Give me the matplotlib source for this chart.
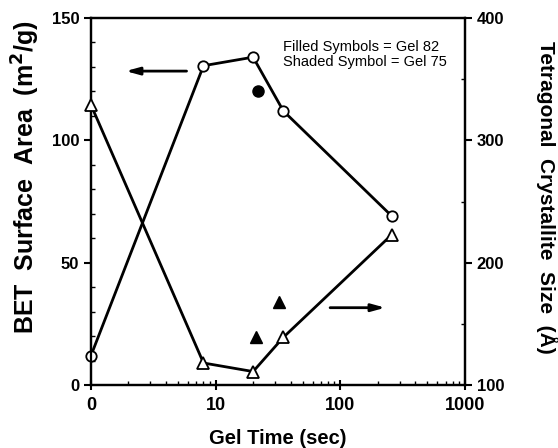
import matplotlib
matplotlib.use("Agg")
import matplotlib.pyplot as plt
from matplotlib.ticker import FixedLocator, LogLocator, NullFormatter, MultipleLocator

plt.rcParams['font.family'] = ['Liberation Sans', 'DejaVu Sans']
plt.rcParams['font.weight'] = 'bold'

# Gel time 0 is plotted at the first decade (1) on a log axis
gel_time_bet = [1, 8, 20, 35, 260]
bet_area = [12, 130.5, 134, 112, 69]
gel82_bet_time = [22]
gel82_bet = [120]

gel_time_cryst = [1, 8, 20, 35, 260]
cryst_size = [329, 118, 111, 139, 223]
gel82_cryst_time = [21, 32]
gel82_cryst = [139.5, 168]

xticks = [1, 10, 100, 1000]
xticklabels = ["0", "10", "100", "1000"]

fig = plt.figure(figsize=(5.58, 4.48), dpi=100)
ax = fig.add_axes([0.163, 0.1406, 0.670, 0.8192])
ax2 = ax.twinx()

ax.set_xscale('log')
ax.set_xlim(1, 1000)
ax.set_ylim(0, 150)
ax2.set_ylim(100, 400)

ax.plot(gel_time_bet, bet_area, color='black', lw=2, marker='o', ms=7.5,
        mfc='white', mec='black', mew=1.3, zorder=3, clip_on=False)
ax.plot(gel82_bet_time, gel82_bet, ls='none', marker='o', ms=8, color='black', zorder=3)

ax2.plot(gel_time_cryst, cryst_size, color='black', lw=2, marker='^', ms=8,
         mfc='white', mec='black', mew=1.3, zorder=3, clip_on=False)
ax2.plot(gel82_cryst_time, gel82_cryst, ls='none', marker='^', ms=9, color='black', zorder=3)

# arrows
ax.annotate('', xy=(1.9, 128.3), xytext=(5.85, 128.3),
            arrowprops=dict(arrowstyle='-|>,head_length=0.8,head_width=0.22', lw=2, color='black',
                            shrinkA=0, shrinkB=0))
ax.annotate('', xy=(230, 31.6), xytext=(83, 31.6),
            arrowprops=dict(arrowstyle='-|>,head_length=0.8,head_width=0.22', lw=2, color='black',
                            shrinkA=0, shrinkB=0))

ax.text(0.515, 0.94, "Filled Symbols = Gel 82\nShaded Symbol = Gel 75",
        transform=ax.transAxes, fontsize=10.5, fontweight='normal', va='top', ha='left',
        linespacing=1.05)

ax.xaxis.set_major_locator(FixedLocator(xticks))
ax.set_xticklabels(xticklabels)
ax.xaxis.set_minor_locator(LogLocator(base=10, subs=range(2, 10)))
ax.xaxis.set_minor_formatter(NullFormatter())
ax.yaxis.set_major_locator(MultipleLocator(50))
ax.yaxis.set_minor_locator(MultipleLocator(10))
ax2.yaxis.set_major_locator(MultipleLocator(100))
ax2.yaxis.set_minor_locator(MultipleLocator(50))

for a in (ax, ax2):
    a.tick_params(which='major', direction='out', length=5, width=1.5, labelsize=12)
    a.tick_params(which='minor', direction='in', length=3, width=1)
    for s in a.spines.values():
        s.set_linewidth(1.6)
ax.tick_params(axis='x', which='major', direction='inout', length=7, pad=5, labelsize=13)

ax.set_xlabel("Gel Time (sec)", fontsize=14.5, fontweight='bold', labelpad=11)
ax.set_ylabel("BET  Surface  Area  (m$^\\mathbf{2}$/g)", fontsize=18, fontweight='bold')
ax.yaxis.set_label_coords(-0.13, 0.567)
ax2.set_ylabel("Tetragonal  Crystallite  Size  (Å)", fontsize=15, fontweight='bold',
               rotation=270, va='center')
ax2.yaxis.set_label_coords(1.22, 0.51)

fig.savefig("out.png", dpi=100)
